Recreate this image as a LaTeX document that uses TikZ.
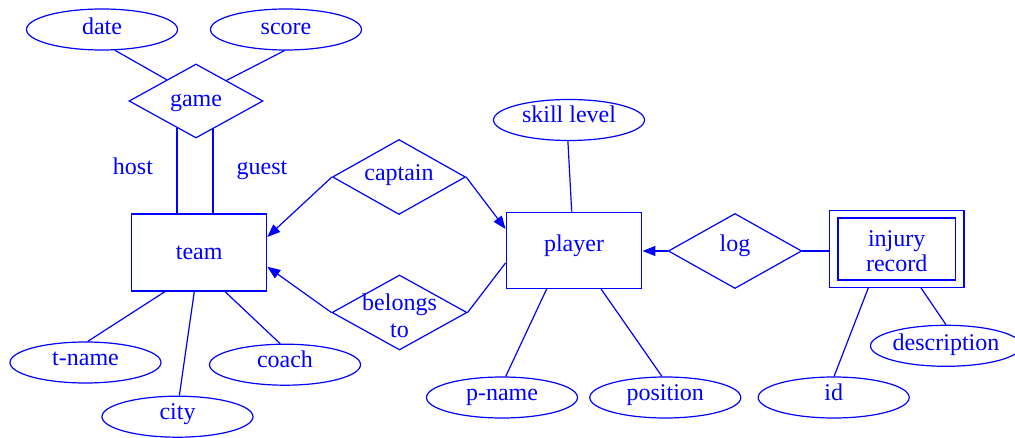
\documentclass[tikz,border=0pt]{standalone}
\usepackage{fontspec}
\setmainfont{Liberation Serif}
\newfontfamily\erfont{Liberation Serif}
\usetikzlibrary{shapes.geometric,arrows.meta}
\definecolor{erblue}{RGB}{0,0,255}
\begin{document}
\begin{tikzpicture}[x=1pt,y=-1pt,
  every node/.style={text=erblue,font=\erfont\fontsize{24}{26}\selectfont},
  attr/.style={draw=erblue,line width=1.2pt,ellipse,inner sep=0pt,minimum width=151pt,minimum height=41pt,text height=12pt,text depth=6pt},
  attrtop/.style={attr,text height=15pt,text depth=4pt},
  ent/.style={draw=erblue,line width=1.2pt,rectangle,inner sep=0pt,minimum width=135pt,minimum height=77pt,align=center},
  rel/.style={draw=erblue,line width=1.2pt,diamond,inner sep=0pt,minimum width=134pt,minimum height=75pt},
  conn/.style={draw=erblue,line width=1.2pt},
  arr/.style={conn,-{Triangle[length=13pt,width=10pt]}},
  lbl/.style={inner sep=0pt,anchor=base}]
\useasboundingbox (0,0) rectangle (1015,438);
% attributes
\node[attrtop] (date) at (102,29.5) {date};
\node[attrtop] (score) at (286,29.5) {score};
\node[attr] (skill) at (569,120) {skill level};
\node[attr] (tname) at (85.5,362.5) {t-name};
\node[attr] (city) at (177.5,416.7) {city};
\node[attr] (coach) at (285,364.7) {coach};
\node[attr] (pname) at (502,397.5) {p-name};
\node[attr] (position) at (665.3,397.5) {position};
\node[attr] (id) at (833.7,397.5) {id};
\node[attr,text height=16pt,text depth=6pt] (desc) at (946,345.8) {description};
% relationships
\node[rel,minimum height=74pt,label={[text height=16pt,text depth=4pt]center:game}] (game) at (196,101) {};
\node[rel,minimum width=133pt,label={[text height=12pt,text depth=5pt]center:captain}] (captain) at (399,177) {};
\node[rel,minimum width=135pt,label={[align=center,yshift=-3pt,font=\erfont\fontsize{24}{27}\selectfont]center:belongs\\to}] (belongs) at (399.5,312.5) {};
\node[rel,minimum width=133.4pt,label={[text height=12pt,text depth=11pt]center:log}] (log) at (735,251) {};
% entities
\node[ent] (team) at (199.2,252.5) {team};
\node[ent,minimum width=135.7pt,minimum height=76pt,text height=14pt,text depth=12pt] (player) at (574,250.3) {player};
\node[ent,minimum width=134.7pt,minimum height=76.6pt] (injury) at (896.7,249) {};
\node[ent,minimum width=117.3pt,minimum height=62pt,label={[align=center,yshift=-2pt,font=\erfont\fontsize{24}{25}\selectfont]center:injury\\record}] (injuryin) at (896.7,249) {};
% role labels
\node[lbl] (host) at (133,175) {host};
\node[lbl] (guest) at (262,175) {guest};
% connectors
\draw[conn] (date.-58.5) -- (game.144.4);
\draw[conn] (score.-94.4) -- (game.34.4);
\draw[conn] (game.-125.6) -- (game.-125.6 |- team.north);
\draw[conn] (game.-59) -- (game.-59 |- team.north);
\draw[arr] (captain.west) -- ([yshift=15.5pt]team.east);
\draw[arr] (captain.east) -- ([yshift=21.3pt]player.west);
\draw[arr] (belongs.west) -- ([yshift=-14.2pt]team.east);
\draw[conn] (belongs.east) -- ([yshift=-12.7pt]player.west);
\draw[conn] (skill.-93.5) -- ([xshift=-2.3pt]player.north);
\draw[arr] (log.west) -- (log.west -| player.east);
\draw[conn] (log.east) -- (log.east -| injury.west);
\draw[conn] ([xshift=-34.2pt]team.south) -- (tname.84);
\draw[conn] ([xshift=-4.9pt]team.south) -- (city.85.7);
\draw[conn] ([xshift=25.8pt]team.south) -- (coach.103);
\draw[conn] ([xshift=-27.3pt]player.south) -- (pname.80);
\draw[conn] ([xshift=27pt]player.south) -- (position.99.8);
\draw[conn] ([xshift=-28.4pt]injury.south) -- (id.89);
\draw[conn] ([xshift=24.3pt]injury.south) -- (desc.north);
\end{tikzpicture}
\end{document}
